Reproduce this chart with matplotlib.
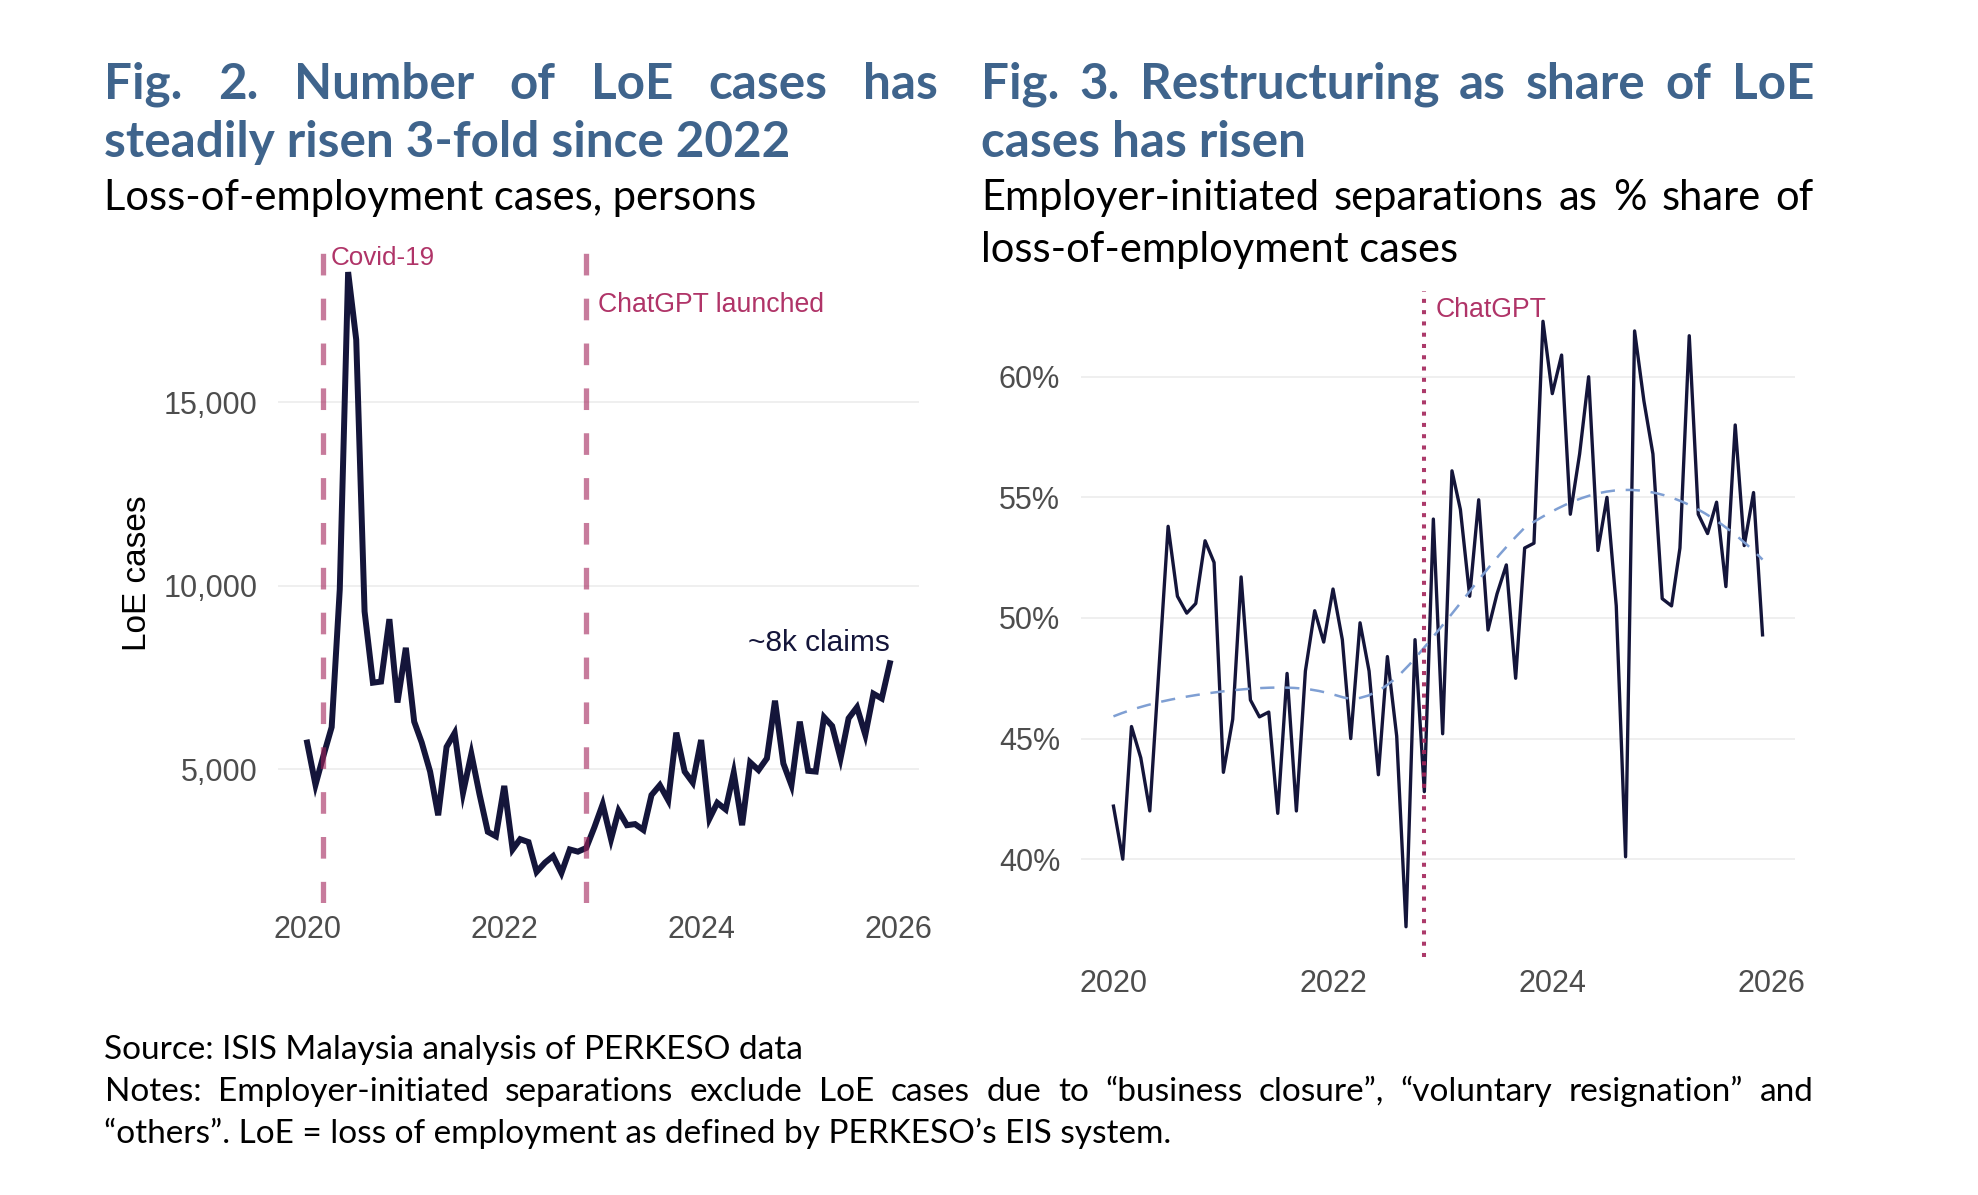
import numpy as np
import pandas as pd
import matplotlib
matplotlib.use("Agg")
import matplotlib.pyplot as plt
import matplotlib.dates as mdates
from matplotlib.ticker import FuncFormatter

# monthly series, Jan 2020 - Dec 2025
months = pd.date_range("2020-01-01", periods=72, freq="MS")

loe_cases = [5730, 4580, 5360, 6150, 9900, 18540, 16700, 9300, 7360, 7390,
             9090, 6820, 8310, 6300, 5730, 4940, 3750, 5610, 5990, 4360,
             5420, 4330, 3300, 3180, 4550, 2820, 3100, 3020, 2210, 2460,
             2640, 2180, 2820, 2760, 2860, 3420, 4050, 3100, 3870, 3480,
             3510, 3350, 4300, 4570, 4160, 6000, 4940, 4640, 5800, 3660,
             4090, 3910, 4910, 3480, 5190, 4980, 5300, 6870, 5160, 4570,
             6300, 4960, 4940, 6420, 6180, 5300, 6390, 6690, 5940, 7060,
             6930, 7890]

restructuring_share = [42.2, 40.0, 45.5, 44.2, 42.0, 48.0, 53.8, 50.9, 50.2, 50.6,
                       53.2, 52.3, 43.6, 45.8, 51.7, 46.6, 45.9, 46.1, 41.9, 47.7,
                       42.0, 47.8, 50.3, 49.0, 51.2, 49.1, 45.0, 49.8, 47.8, 43.5,
                       48.4, 45.1, 37.2, 49.1, 42.8, 54.1, 45.2, 56.1, 54.5, 50.9,
                       54.9, 49.5, 51.0, 52.2, 47.5, 52.9, 53.1, 62.3, 59.3, 60.9,
                       54.3, 56.8, 60.0, 52.8, 55.0, 50.5, 40.1, 61.9, 59.0, 56.8,
                       50.8, 50.5, 52.9, 61.7, 54.3, 53.5, 54.8, 51.3, 58.0, 53.0,
                       55.2, 49.3]

covid_date = pd.Timestamp("2020-03-01")
chatgpt_date = pd.Timestamp("2022-11-01")

left_yticks = [5000, 10000, 15000]
right_yticks = [40, 45, 50, 55, 60]
year_ticks = pd.to_datetime(["2020-01-01", "2022-01-01", "2024-01-01", "2026-01-01"])

title_left = ["Fig. 2. Number of LoE cases has", "steadily risen 3-fold since 2022"]
title_right = ["Fig. 3. Restructuring as share of LoE", "cases has risen"]
sub_left = "Loss-of-employment cases, persons"
sub_right = ["Employer-initiated separations as % share of", "loss-of-employment cases"]
footer = ["Source: ISIS Malaysia analysis of PERKESO data",
          "Notes:  Employer-initiated separations exclude LoE cases due to \u201cbusiness closure\u201d, \u201cvoluntary resignation\u201d and",
          "\u201cothers\u201d. LoE = loss of employment as defined by PERKESO\u2019s EIS system."]

BLUE = "#3f648c"
NAVY = "#14153a"
PINK = "#a3245a"
TXT_FONT = ["Lato", "DejaVu Sans"]
AX_FONT = ["Liberation Sans", "DejaVu Sans"]
W, H = 1978, 1195


def loess(x, y, grid, span=0.75):
    # local quadratic fit with tricube weights, like ggplot's default smoother
    n = len(x)
    q = int(np.floor(span * n))
    out = []
    for x0 in grid:
        d = np.abs(x - x0)
        h = np.sort(d)[q - 1]
        w = np.clip(1 - (d / h) ** 3, 0, None) ** 3
        X = np.column_stack([np.ones(n), x - x0, (x - x0) ** 2])
        sw = np.sqrt(w)
        beta = np.linalg.lstsq(X * sw[:, None], y * sw, rcond=None)[0]
        out.append(beta[0])
    return np.array(out)


def expand(vals, frac=0.05):
    lo, hi = min(vals), max(vals)
    r = hi - lo
    return lo - frac * r, hi + frac * r


fig = plt.figure(figsize=(W / 100, H / 100), dpi=100)
renderer = fig.canvas.get_renderer()

span_days = (months[-1] - months[0]).days
xlim = (months[0] - pd.Timedelta(days=span_days * 0.05),
        months[-1] + pd.Timedelta(days=span_days * 0.05))


def style_axes(ax):
    for s in ax.spines.values():
        s.set_visible(False)
    ax.grid(axis="y", color="#ebebeb", lw=1.1)
    ax.grid(axis="x", visible=False)
    ax.set_axisbelow(True)
    ax.set_xlim(xlim)
    ax.set_xticks(year_ticks)
    ax.xaxis.set_major_formatter(mdates.DateFormatter("%Y"))
    ax.tick_params(axis="both", length=0, labelsize=22, labelcolor="#4d4d4d")
    ax.tick_params(axis="x", pad=9)
    ax.tick_params(axis="y", pad=15)
    for lab in ax.get_xticklabels() + ax.get_yticklabels():
        lab.set_family(AX_FONT)


# ---- left: LoE cases
ax1 = fig.add_axes([278 / W, 1 - 903 / H, 641 / W, 661 / H])
ax1.plot(months, loe_cases, color=NAVY, lw=4.3, solid_joinstyle="miter", zorder=2)
ax1.set_ylim(expand(loe_cases))
ax1.set_yticks(left_yticks)
ax1.yaxis.set_major_formatter(FuncFormatter(lambda v, p: f"{v:,.0f}"))
style_axes(ax1)
for d in (covid_date, chatgpt_date):
    ax1.axvline(d, color=PINK, alpha=0.6, lw=3.8, ls=(0, (4.1, 4.4)), zorder=3)
ax1.text(covid_date + pd.Timedelta(days=26), 18930, "Covid-19", color="#b03468",
         fontsize=18.7, family=AX_FONT, ha="left", va="center")
ax1.text(chatgpt_date + pd.Timedelta(days=42), 17650, "ChatGPT launched", color="#b03468",
         fontsize=19.2, family=AX_FONT, ha="left", va="center")
ax1.text(months[-1], 8450, "~8k claims", color=NAVY,
         fontsize=21.5, family=AX_FONT, ha="right", va="center")
fig.text(137 / W, 1 - 573 / H, "LoE cases", rotation=90, fontsize=24,
         family=AX_FONT, ha="center", va="center", color="black")

# ---- right: restructuring share
ax2 = fig.add_axes([1081 / W, 1 - 957 / H, 714 / W, 666 / H])
ax2.plot(months, restructuring_share, color=NAVY, lw=2.4, zorder=2)
xnum = mdates.date2num(months)
grid = np.linspace(xnum[0], xnum[-1], 80)
ax2.plot(mdates.num2date(grid), loess(xnum, np.array(restructuring_share), grid),
         color="#7f9fd3", lw=1.8, ls=(0, (5.7, 4.3)), zorder=3)
ax2.set_ylim(expand(restructuring_share))
ax2.set_yticks(right_yticks)
ax2.yaxis.set_major_formatter(FuncFormatter(lambda v, p: f"{v:.0f}%"))
style_axes(ax2)
ax2.axvline(chatgpt_date, color=PINK, alpha=0.9, lw=2.9, ls=(0, (1, 1.8)), zorder=4)
ax2.text(chatgpt_date + pd.Timedelta(days=36), 62.76, "ChatGPT", color="#b03468",
         fontsize=19.2, family=AX_FONT, ha="left", va="center")


# ---- text blocks
def text_width(s, size, **kw):
    t = fig.text(0, 0, s, fontsize=size, **kw)
    w = t.get_window_extent(renderer=renderer).width
    t.remove()
    return w


def fit_size(s, target, **kw):
    return 20 * target / text_width(s, 20, **kw)


def put_line(s, x0, yc, size, x1=None, **kw):
    base = 1 - (yc + 0.26 * size * 100 / 72) / H
    words = s.split()
    if x1 is None:
        fig.text(x0 / W, base, s, fontsize=size, ha="left", va="baseline", **kw)
        return
    widths = [text_width(w, size, **kw) for w in words]
    gap = (x1 - x0 - sum(widths)) / (len(words) - 1)
    x = x0
    for w, wd in zip(words, widths):
        fig.text(x / W, base, w, fontsize=size, ha="left", va="baseline", **kw)
        x += wd + gap


tkw = dict(family=TXT_FONT, fontweight="bold", color=BLUE)
t_size = fit_size(title_left[1], 687, **tkw)
put_line(title_left[0], 104.5, 86, t_size, x1=938, **tkw)
put_line(title_left[1], 104.5, 144, t_size, **tkw)
put_line(title_right[0], 981, 86, t_size, x1=1814, **tkw)
put_line(title_right[1], 981, 144, t_size, **tkw)

skw = dict(family=TXT_FONT, color="black")
s_size = fit_size(sub_left, 653, **skw)
put_line(sub_left, 104.5, 199, s_size, **skw)
put_line(sub_right[0], 981, 199, s_size, x1=1814, **skw)
put_line(sub_right[1], 981, 251, s_size, **skw)

f_size = fit_size(footer[0], 697, **skw)
put_line(footer[0], 104.5, 1050, f_size, **skw)
put_line(footer[1], 104.5, 1092, f_size, x1=1814, **skw)
put_line(footer[2], 104.5, 1134, f_size, **skw)

fig.savefig("out.png", dpi=100, facecolor="white")
